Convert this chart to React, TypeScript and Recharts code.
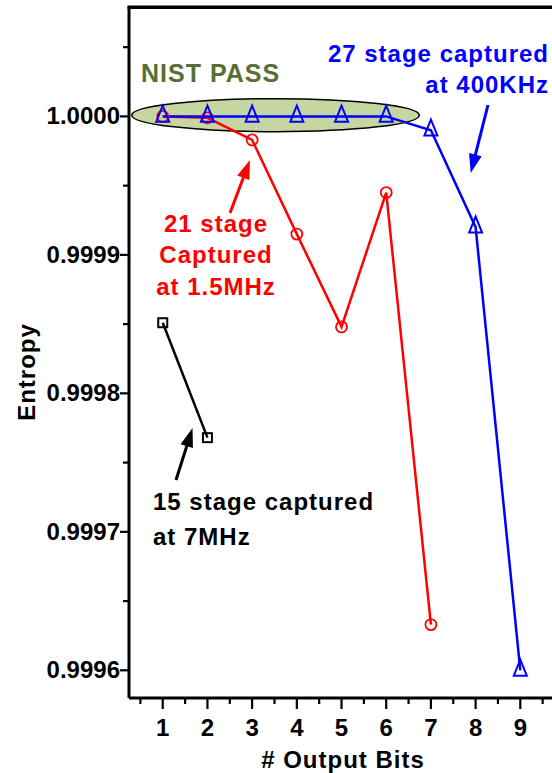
import React from 'react';
import { LineChart, Line, XAxis, YAxis, ReferenceArea } from 'recharts';

// Entropy versus number of output bits for three ring-oscillator configurations
const bits = [1, 2, 3, 4, 5, 6, 7, 8, 9];
const stage27 = [1.0, 1.0, 1.0, 1.0, 1.0, 1.0, 0.99999, 0.99992, 0.9996];
const stage21 = [1.0, 0.999999, 0.999983, 0.999915, 0.999848, 0.999945, 0.999633];
const stage15 = [0.999851, 0.999768];

const xTicks = [0.5, 1, 1.5, 2, 2.5, 3, 3.5, 4, 4.5, 5, 5.5, 6, 6.5, 7, 7.5, 8, 8.5, 9, 9.5];
const yTicks = [0.9996, 0.99965, 0.9997, 0.99975, 0.9998, 0.99985, 0.9999, 0.99995, 1.0, 1.00005];

const X_DOMAIN: [number, number] = [0.245, 10];
const Y_DOMAIN: [number, number] = [0.99958, 1.000079];

const data = bits.map((b, i) => ({
  bit: b,
  s27: stage27[i],
  s21: stage21[i],
  s15: stage15[i],
}));

const FONT = '"Liberation Sans", Arial, sans-serif';

const XTick = (props: any) => {
  const { x, y, payload } = props;
  const v = payload.value;
  const major = Math.abs(v - Math.round(v)) < 1e-6;
  return (
    <g>
      <line x1={x} y1={y} x2={x} y2={y + (major ? 11 : 6)} stroke="#000" strokeWidth={2.2} />
      {major && (
        <text x={x} y={y + 38} textAnchor="middle" fontFamily={FONT} fontWeight="bold" fontSize={24} fill="#000">
          {Math.round(v)}
        </text>
      )}
    </g>
  );
};

const YTick = (props: any) => {
  const { x, y, payload } = props;
  const v = payload.value;
  const major = Math.round(v * 1e5) % 10 === 0;
  return (
    <g>
      <line x1={x} y1={y} x2={x - (major ? 9 : 6)} y2={y} stroke="#000" strokeWidth={2.2} />
      {major && (
        <text x={x - 9} y={y + 8} textAnchor="end" fontFamily={FONT} fontWeight="bold" fontSize={24} fill="#000">
          {v.toFixed(4)}
        </text>
      )}
    </g>
  );
};

const Triangle = (props: any) => {
  const { cx, cy } = props;
  if (cx == null || cy == null) return null;
  const h = 16;
  const w = 13;
  const pts = `${cx},${cy - (2 * h) / 3} ${cx - w / 2},${cy + h / 3} ${cx + w / 2},${cy + h / 3}`;
  return <polygon points={pts} fill="none" stroke="#0000ff" strokeWidth={2} />;
};

const Circle = (props: any) => {
  const { cx, cy } = props;
  if (cx == null || cy == null) return null;
  return <circle cx={cx} cy={cy} r={5.5} fill="none" stroke="#ff0000" strokeWidth={1.8} />;
};

const Square = (props: any) => {
  const { cx, cy } = props;
  if (cx == null || cy == null) return null;
  return <rect x={cx - 4.5} y={cy - 4.5} width={9} height={9} fill="none" stroke="#000" strokeWidth={2} />;
};

const Ellipse = (props: any) => {
  const { x, y, width, height } = props;
  return (
    <ellipse
      cx={x + width / 2}
      cy={y + height / 2}
      rx={width / 2}
      ry={height / 2}
      fill="#c5d6a0"
      stroke="#000"
      strokeWidth={1.5}
    />
  );
};

const Arrow = ({ x1, y1, x2, y2, color }: { x1: number; y1: number; x2: number; y2: number; color: string }) => {
  const dx = x2 - x1;
  const dy = y2 - y1;
  const len = Math.sqrt(dx * dx + dy * dy);
  const ux = dx / len;
  const uy = dy / len;
  const hl = 19;
  const hw = 6.5;
  const bx = x2 - ux * hl;
  const by = y2 - uy * hl;
  const pts = `${x2},${y2} ${bx - uy * hw},${by + ux * hw} ${bx + uy * hw},${by - ux * hw}`;
  return (
    <g>
      <line x1={x1} y1={y1} x2={bx + ux * 2} y2={by + uy * 2} stroke={color} strokeWidth={3} />
      <polygon points={pts} fill={color} />
    </g>
  );
};

const textStyle = { fontFamily: FONT, fontWeight: 'bold' as const, fontSize: 24, letterSpacing: 1 };

export default function App() {
  return (
    <div style={{ position: 'fixed', left: 0, top: 0, width: 552, height: 773, overflow: 'hidden', background: '#fff' }}>
      <LineChart width={600} height={773} data={data} margin={{ top: 7, right: 35, bottom: 0, left: 0 }}>
        <XAxis
          dataKey="bit"
          type="number"
          domain={X_DOMAIN}
          allowDataOverflow
          ticks={xTicks}
          interval={0}
          tick={<XTick />}
          tickLine={false}
          tickSize={0}
          tickMargin={0}
          axisLine={{ stroke: '#000', strokeWidth: 3 }}
          height={75}
        />
        <YAxis
          type="number"
          domain={Y_DOMAIN}
          allowDataOverflow
          ticks={yTicks}
          interval={0}
          tick={<YTick />}
          tickLine={false}
          tickSize={0}
          tickMargin={0}
          axisLine={{ stroke: '#000', strokeWidth: 3 }}
          width={129}
        />
        <ReferenceArea
          x1={0.306}
          x2={6.74}
          y1={0.999989}
          y2={1.0000128}
          ifOverflow="visible"
          shape={<Ellipse />}
        />
        <Line dataKey="s21" stroke="#ff0000" strokeWidth={2.5} dot={<Circle />} isAnimationActive={false} />
        <Line dataKey="s27" stroke="#0000ff" strokeWidth={2.5} dot={<Triangle />} isAnimationActive={false} />
        <Line dataKey="s15" stroke="#000" strokeWidth={2.5} dot={<Square />} isAnimationActive={false} />
      </LineChart>
      <svg width={552} height={773} style={{ position: 'absolute', left: 0, top: 0, pointerEvents: 'none' }}>
        {/* top edge of the plot frame */}
        <rect x={127.5} y={5.5} width={425} height={3.5} fill="#000" />
        <text x={141} y={82} fill="#5a6e34" {...textStyle} fontSize={25}>NIST PASS</text>
        <text x={549} y={62} textAnchor="end" fill="#0000ff" {...textStyle}>27 stage captured</text>
        <text x={549} y={93} textAnchor="end" fill="#0000ff" {...textStyle}>at 400KHz</text>
        <text x={216} y={232} textAnchor="middle" fill="#ff0000" {...textStyle}>21 stage</text>
        <text x={216} y={263} textAnchor="middle" fill="#ff0000" {...textStyle}>Captured</text>
        <text x={216} y={295} textAnchor="middle" fill="#ff0000" {...textStyle}>at 1.5MHz</text>
        <text x={153} y={510} fill="#000" {...textStyle}>15 stage captured</text>
        <text x={153} y={545} fill="#000" {...textStyle}>at 7MHz</text>
        <Arrow x1={488} y1={105} x2={470.7} y2={173} color="#0000ff" />
        <Arrow x1={230} y1={213} x2={250} y2={160} color="#ff0000" />
        <Arrow x1={176} y1={480} x2={192.5} y2={428} color="#000" />
        <text x={343} y={768} textAnchor="middle" {...textStyle}>
          # Output Bits
        </text>
        <text
          x={35}
          y={372}
          textAnchor="middle"
          transform="rotate(-90 35 372)"
          {...textStyle}
        >
          Entropy
        </text>
      </svg>
    </div>
  );
}
